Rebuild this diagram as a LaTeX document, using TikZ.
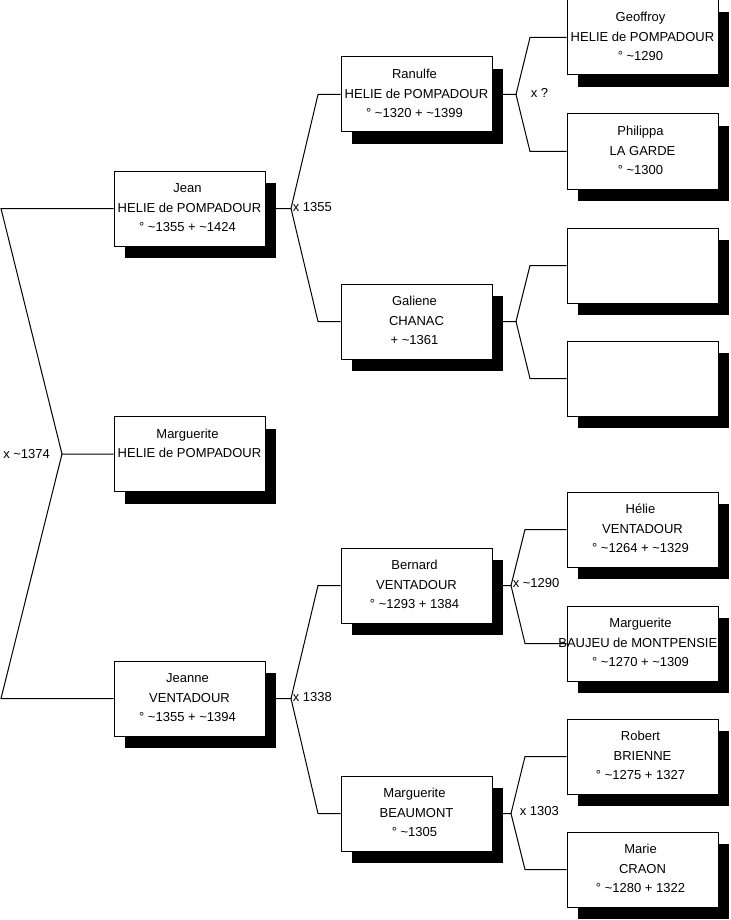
\documentclass[tikz,border=0pt]{standalone}
\usepackage{fontspec}
\setmainfont{Liberation Sans}
\usetikzlibrary{shadows}
\pgfdeclarelayer{bg}
\pgfsetlayers{bg,main}
\tikzset{
  person/.style={draw=black, fill=white, line width=0.75pt, minimum width=113.25pt,
    minimum height=56.25pt, inner sep=0pt, align=center,
    font=\fontsize{9.75pt}{14.6pt}\selectfont,
    drop shadow={shadow xshift=8.6pt, shadow yshift=-9pt, fill=black, opacity=1}},
  link/.style={draw=black, line width=0.75pt},
  union/.style={anchor=west, inner sep=0pt, font=\fontsize{9.75pt}{12pt}\selectfont}
}
\newcommand\ppl[3]{\strut #1\hspace*{3pt}\\\strut #2\hspace*{3pt}\\\strut #3\hspace*{3pt}}
\begin{document}
\begin{tikzpicture}[x=0.75pt,y=-0.75pt]
\useasboundingbox (0,0) rectangle (731,920);
% column 1
\node[person] (jean)   at (189.5,208.5) {\ppl{Jean}{HELIE de POMPADOUR}{° \textasciitilde1355 + \textasciitilde1424}};
\node[person] (marg)   at (189.5,454)   {\ppl{Marguerite}{HELIE de POMPADOUR}{}};
\node[person] (jeanne) at (189.5,698.5) {\ppl{Jeanne}{VENTADOUR}{° \textasciitilde1355 + \textasciitilde1394}};
% column 2
\node[person] (ranulfe)  at (416.5,94.5)  {\ppl{Ranulfe}{HELIE de POMPADOUR}{° \textasciitilde1320 + \textasciitilde1399}};
\node[person] (galiene)  at (416.5,321.5) {\ppl{Galiene}{CHANAC}{+ \textasciitilde1361}};
\node[person] (bernard)  at (416.5,585.5) {\ppl{Bernard}{VENTADOUR}{° \textasciitilde1293 + 1384}};
\node[person] (beaumont) at (416.5,813.5) {\ppl{Marguerite}{BEAUMONT}{° \textasciitilde1305}};
% column 3
\node[person] (geoffroy) at (642.5,37.5)  {\ppl{Geoffroy}{HELIE de POMPADOUR}{° \textasciitilde1290}};
\node[person] (philippa) at (642.5,151.5) {\ppl{Philippa}{LA GARDE}{° \textasciitilde1300}};
\node[person] (blanka)   at (642.5,265.5) {};
\node[person] (blankb)   at (642.5,378.5) {};
\node[person] (helie)    at (642.5,529.5) {\ppl{Hélie}{VENTADOUR}{° \textasciitilde1264 + \textasciitilde1329}};
\node[person] (baujeu)   at (642.5,643.5) {\ppl{Marguerite}{\makebox[110pt]{BAUJEU de MONTPENSIER}}{° \textasciitilde1270 + \textasciitilde1309}};
\node[person] (robert)   at (642.5,756.5) {\ppl{Robert}{BRIENNE}{° \textasciitilde1275 + 1327}};
\node[person] (marie)    at (642.5,869.5) {\ppl{Marie}{CRAON}{° \textasciitilde1280 + 1322}};
% fork points and x positions
\coordinate (r0) at (1,0);
\coordinate (froot) at (62,454);
\coordinate (c2) at (318,0);
\coordinate (c3a) at (530,0);
\coordinate (c3b) at (525,0);
\coordinate (fjean) at (291,208.5);
\coordinate (fjeanne) at (291,698.5);
\coordinate (franulfe) at (516,94.5);
\coordinate (fgaliene) at (516,321.5);
\coordinate (fbernard) at (511,585.5);
\coordinate (fbeaumont) at (511,813.5);
% union labels
\node[union] (u0) at (3,454) {x \textasciitilde1374};
\node[union] (u1) at (292.5,207.5) {x 1355};
\node[union] (u2) at (530.5,92.5) {x ?};
\node[union] (u3) at (292.5,697.5) {x 1338};
\node[union] (u4) at (512.5,583) {x \textasciitilde1290};
\node[union] (u5) at (519.5,811) {x 1303};
\begin{pgfonlayer}{bg}
\draw[link] (jean.west) -- (jean.west -| r0) -- (froot) -- (marg.west);
\draw[link] (froot) -- (jeanne.west -| r0) -- (jeanne.west);
\draw[link] (jean.east) -- (fjean) -- (ranulfe.west -| c2) -- (ranulfe.west);
\draw[link] (fjean) -- (galiene.west -| c2) -- (galiene.west);
\draw[link] (jeanne.east) -- (fjeanne) -- (bernard.west -| c2) -- (bernard.west);
\draw[link] (fjeanne) -- (beaumont.west -| c2) -- (beaumont.west);
\draw[link] (ranulfe.east) -- (franulfe) -- (geoffroy.west -| c3a) -- (geoffroy.west);
\draw[link] (franulfe) -- (philippa.west -| c3a) -- (philippa.west);
\draw[link] (galiene.east) -- (fgaliene) -- (blanka.west -| c3a) -- (blanka.west);
\draw[link] (fgaliene) -- (blankb.west -| c3a) -- (blankb.west);
\draw[link] (bernard.east) -- (fbernard) -- (helie.west -| c3b) -- (helie.west);
\draw[link] (fbernard) -- (baujeu.west -| c3b) -- (baujeu.west);
\draw[link] (beaumont.east) -- (fbeaumont) -- (robert.west -| c3b) -- (robert.west);
\draw[link] (fbeaumont) -- (marie.west -| c3b) -- (marie.west);
\end{pgfonlayer}
\end{tikzpicture}
\end{document}
